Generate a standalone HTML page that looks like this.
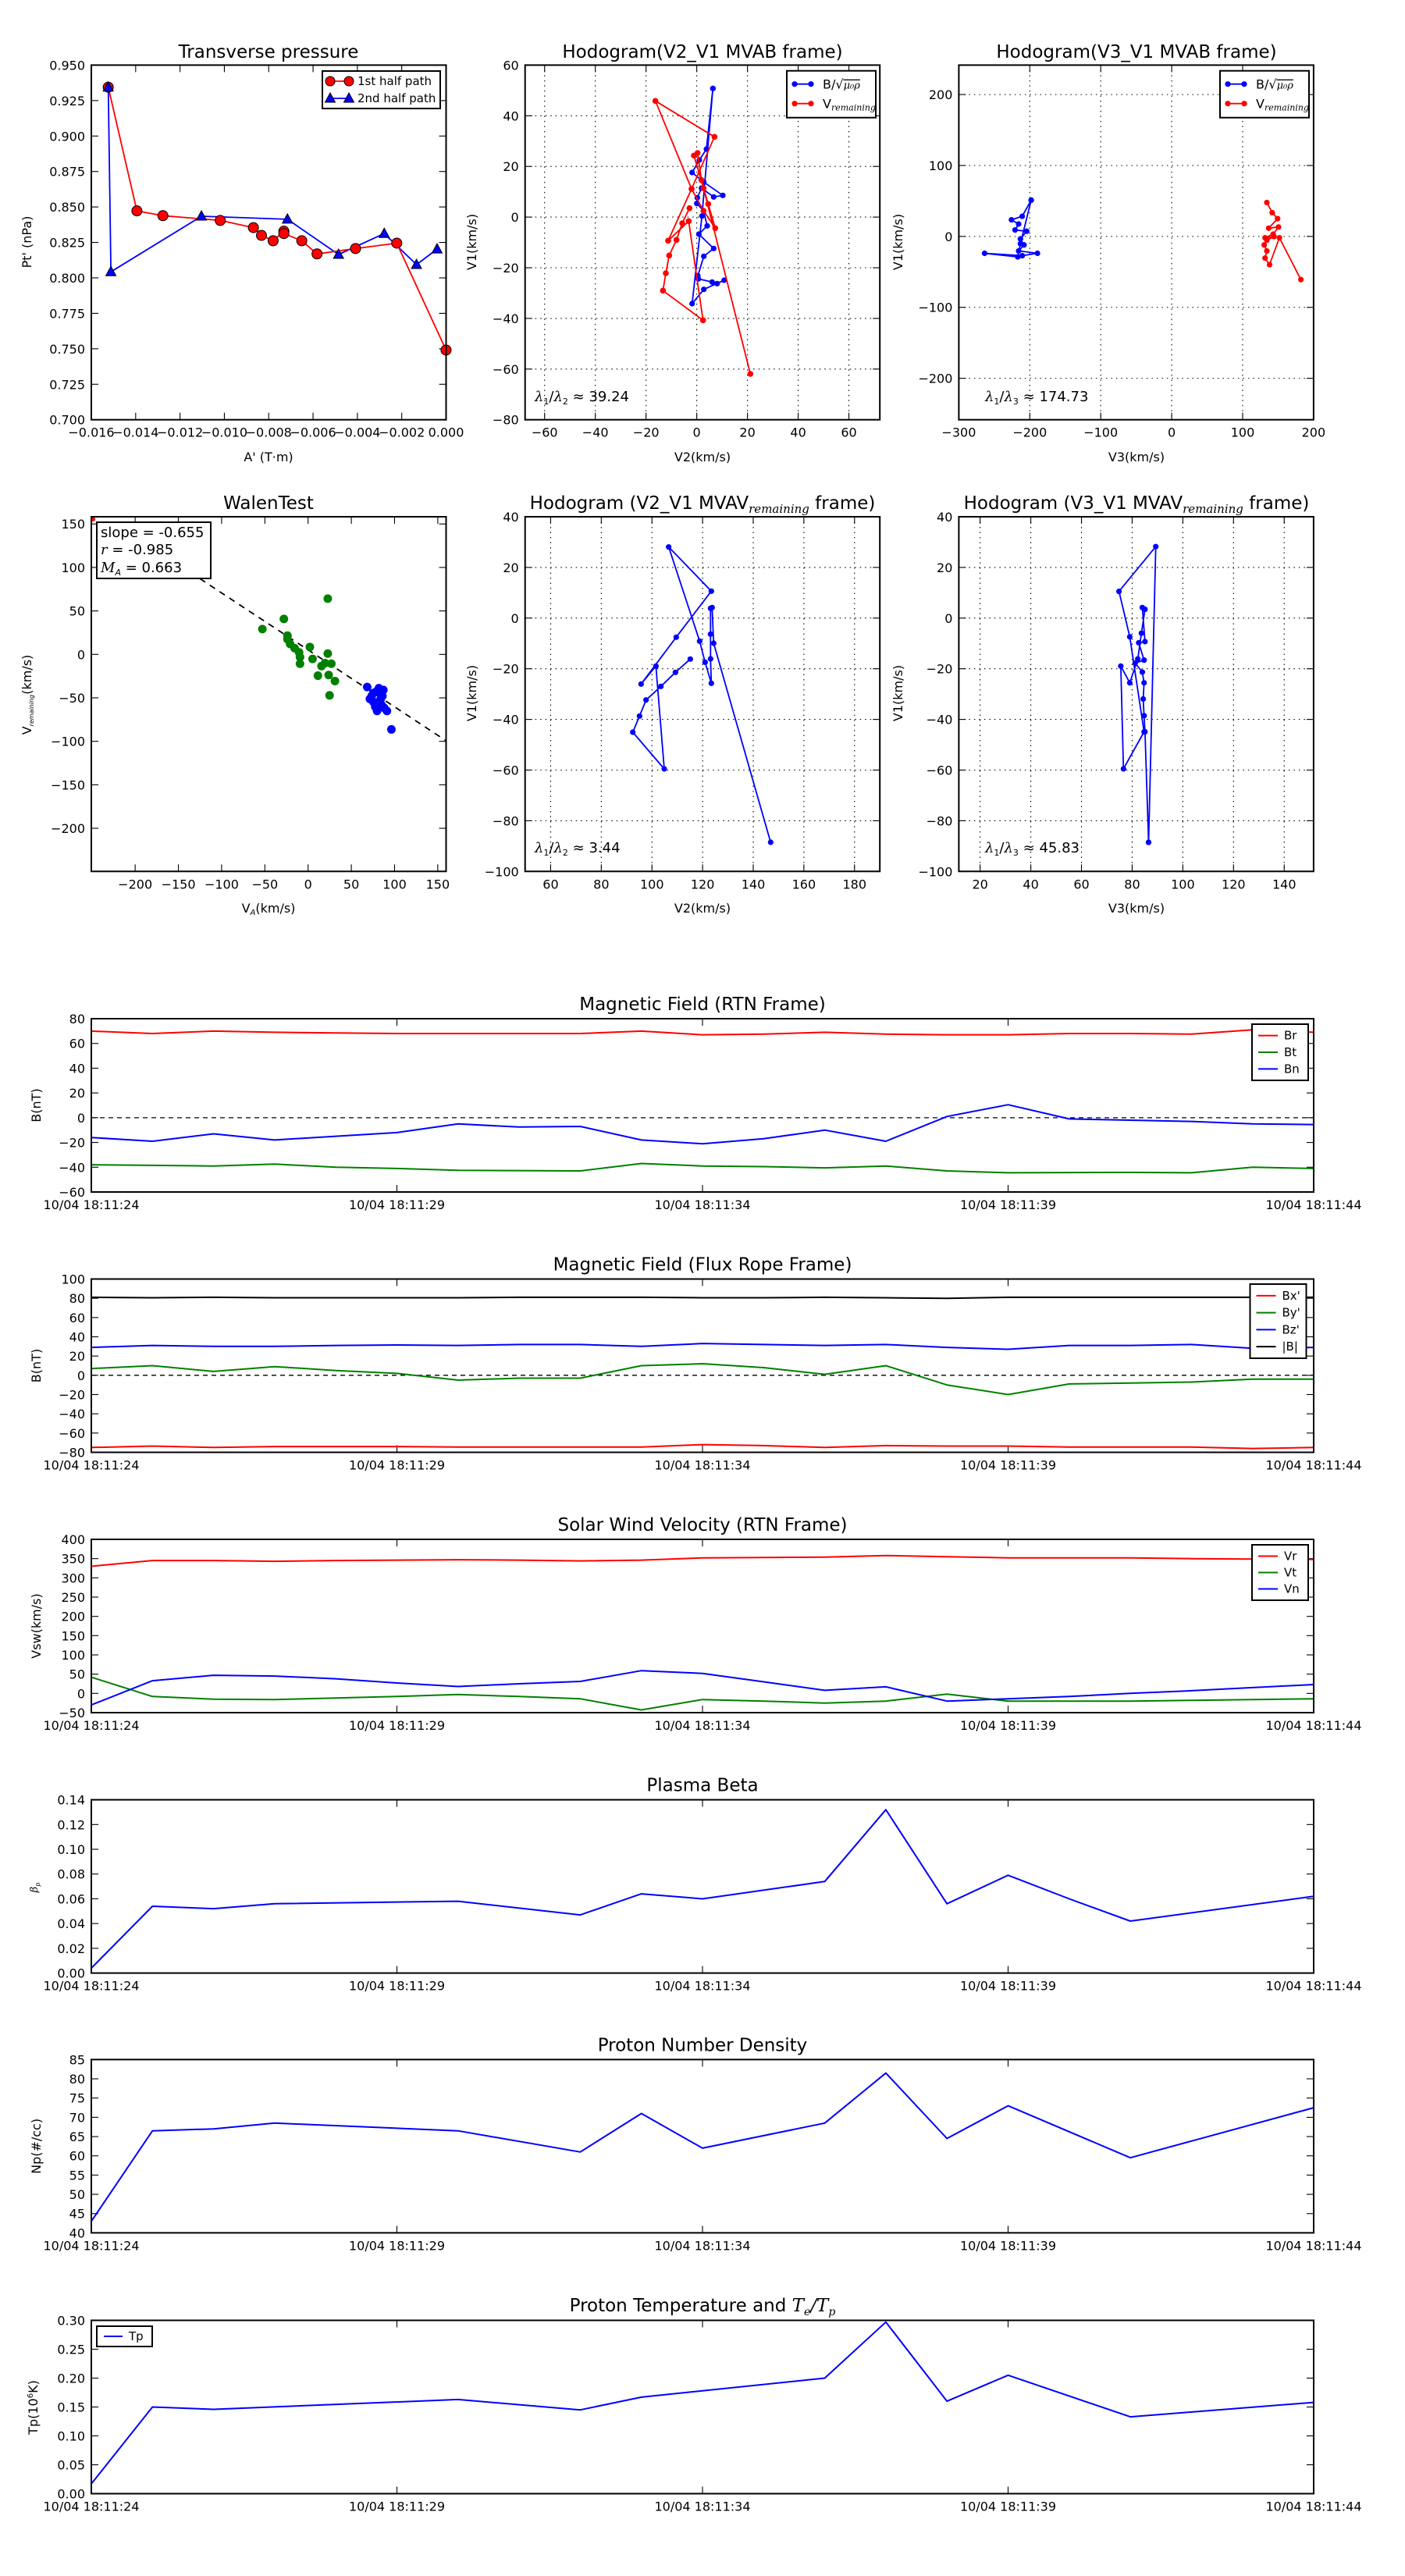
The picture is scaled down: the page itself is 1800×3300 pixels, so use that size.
<!DOCTYPE html>
<html><head><meta charset="utf-8"><style>
html,body{margin:0;padding:0;background:#fff;}
svg{display:block;font-family:"DejaVu Sans","Liberation Sans",sans-serif;}
</style></head><body>
<svg id="s" xmlns="http://www.w3.org/2000/svg" width="1800" height="3300" viewBox="0 0 1800 3300">
<rect width="1800" height="3300" fill="#fff"/>
</svg>
<script>
const S=document.getElementById('s');const NS='http://www.w3.org/2000/svg';
function el(t,a,txt,p){const e=document.createElementNS(NS,t);for(const k in a)e.setAttribute(k,a[k]);if(txt!==undefined&&txt!==null)e.textContent=txt;(p||S).appendChild(e);return e;}
function txt(x,y,s,o){o=o||{};const a={x:x,y:y,'font-size':o.fs||16,'text-anchor':o.anchor||'middle',fill:'#000'};if(o.rot)a.transform='rotate(-90 '+x+' '+y+')';if(o.ff)a['font-family']=o.ff;return el('text',a,s);}
function panel(P){
 const mx=v=>P.x0+(v-P.xr[0])/(P.xr[1]-P.xr[0])*P.w;
 const my=v=>P.y0+P.h-(v-P.yr[0])/(P.yr[1]-P.yr[0])*P.h;
 P.mx=mx;P.my=my;
 if(P.grid){P.xt.forEach(v=>{const X=mx(v);el('line',{x1:X,x2:X,y1:P.y0,y2:P.y0+P.h,stroke:'#000','stroke-width':1.1,'stroke-dasharray':'1.5,5'});});
  P.yt.forEach(v=>{const Y=my(v);el('line',{x1:P.x0,x2:P.x0+P.w,y1:Y,y2:Y,stroke:'#000','stroke-width':1.1,'stroke-dasharray':'1.5,5'});});}
 P.xt.forEach((v,i)=>{const X=mx(v);el('line',{x1:X,x2:X,y1:P.y0+P.h,y2:P.y0+P.h-9,stroke:'#000','stroke-width':1.1});el('line',{x1:X,x2:X,y1:P.y0,y2:P.y0+9,stroke:'#000','stroke-width':1.1});
  if(P.xl)txt(X,P.y0+P.h+22,P.xl[i]);});
 P.yt.forEach((v,i)=>{const Y=my(v);el('line',{x1:P.x0,x2:P.x0+9,y1:Y,y2:Y,stroke:'#000','stroke-width':1.1});el('line',{x1:P.x0+P.w,x2:P.x0+P.w-9,y1:Y,y2:Y,stroke:'#000','stroke-width':1.1});
  txt(P.x0-8,Y+6,P.yl[i],{anchor:'end'});});
 return P;}
function frame(P){el('rect',{x:P.x0,y:P.y0,width:P.w,height:P.h,fill:'none',stroke:'#000','stroke-width':2});}
function poly(pts,col,w){el('polyline',{points:pts.map(p=>p[0].toFixed(1)+','+p[1].toFixed(1)).join(' '),fill:'none',stroke:col,'stroke-width':w||1.8,'stroke-linejoin':'round'});}
function dots(pts,col,r){pts.forEach(p=>el('circle',{cx:p[0],cy:p[1],r:r,fill:col,stroke:'none'}));}
const Z1=p=>[0.9+p[0]*1.148,p[1]*0.7653];
const range=(a,b,s)=>{const r=[];for(let v=a;v<=b+1e-9;v+=s)r.push(+v.toFixed(6));return r;};

const W=454.5,H=454.3,TY=83.4,TY2=662;
const C1=117,C2=672.7,C3=1228.4;
// P1
const P1=panel({x0:C1,y0:TY,w:W,h:H,xr:[-0.016,0],yr:[0.7,0.95],xt:range(-0.016,0,0.002),yt:range(0.7,0.95,0.025),
 xl:['\u22120.016','\u22120.014','\u22120.012','\u22120.010','\u22120.008','\u22120.006','\u22120.004','\u22120.002','0.000'],
 yl:['0.700','0.725','0.750','0.775','0.800','0.825','0.850','0.875','0.900','0.925','0.950']});
const red1=[[120,146],[152,353],[181,361],[245,369],[282,381],[291,394],[304,403],[316,387],[316,391],[336,403],[353,425],[396,416],[442,407],[497,586]].map(Z1);
const blue1=[[120,146],[123,455],[224,362],[320,367],[377,426],[428,391],[464,443],[487,417]].map(Z1);
poly(blue1,'#0000ff');poly(red1,'#ff0000');
red1.forEach(p=>el('circle',{cx:p[0],cy:p[1],r:6.5,fill:'#ff0000',stroke:'#000','stroke-width':1}));
function tri(x,y,c){el('polygon',{points:`${x},${y-7} ${x-6.5},${y+5} ${x+6.5},${y+5}`,fill:c,stroke:'#000','stroke-width':1});}
blue1.forEach(p=>tri(p[0],p[1],'#0000ff'));
frame(P1);
el('rect',{x:413,y:91,width:151,height:48,fill:'#fff',stroke:'#000','stroke-width':2});
el('line',{x1:421,x2:449,y1:104,y2:104,stroke:'#ff0000','stroke-width':1.8});
el('circle',{cx:423,cy:104,r:6,fill:'#ff0000',stroke:'#000'});el('circle',{cx:447,cy:104,r:6,fill:'#ff0000',stroke:'#000'});
txt(458,109,'1st half path',{anchor:'start',fs:15});
el('line',{x1:421,x2:449,y1:126,y2:126,stroke:'#0000ff','stroke-width':1.8});
tri(423,126,'#0000ff');tri(447,126,'#0000ff');
txt(458,131,'2nd half path',{anchor:'start',fs:15});
txt(344,74,'Transverse pressure',{fs:23});
txt(344,591,"A' (T\u00b7m)",{fs:16});
txt(40,310,"Pt' (nPa)",{fs:16,rot:1});

// P2
const P2=panel({x0:C2,y0:TY,w:W,h:H,xr:[-67.7,72.2],yr:[-80,60],xt:range(-60,60,20),yt:range(-80,60,20),grid:1,
 xl:['\u221260','\u221240','\u221220','0','20','40','60'],yl:['\u221280','\u221260','\u221240','\u221220','0','20','40','60']});
const Z5=p=>[820+p[0]/3,90+p[1]/3];
const b2=[[280,70],[255,303],[228,345],[200,393],[245,430],[318,481],[283,487],[236,453],[220,490],[218,512],[244,540],[258,598],[226,630],[283,685],[245,715],[222,790],[224,802],[277,814],[296,820],[323,807],[245,842],[200,897],[238,560],[280,70]].map(Z5);
const r2=[[190,530],[162,588],[140,652],[112,712],[99,780],[88,847],[242,961],[187,580],[108,655],[198,456],[286,256],[59,118],[198,456],[244,540],[289,607],[262,514],[244,453],[236,422],[221,318],[207,328],[244,453],[424,1167]].map(Z5);
poly(b2,'#0000ff');dots(b2,'#0000ff',3.6);poly(r2,'#ff0000');dots(r2,'#ff0000',3.8);
frame(P2);
function hleg(x,y){el('rect',{x:x,y:y,width:114,height:60,fill:'#fff',stroke:'#000','stroke-width':2});
 el('line',{x1:x+10,x2:x+31,y1:y+17,y2:y+17,stroke:'#0000ff','stroke-width':1.8});dots([[x+10,y+17],[x+31,y+17]],'#0000ff',3.6);
 el('line',{x1:x+10,x2:x+31,y1:y+42,y2:y+42,stroke:'#ff0000','stroke-width':1.8});dots([[x+10,y+42],[x+31,y+42]],'#ff0000',3.6);
 const t=el('text',{x:x+46,y:y+23,'font-size':16,fill:'#000'},null);t.textContent='B/\u221A';
 el('tspan',{'font-style':'italic','text-decoration':'overline','font-family':'DejaVu Serif','font-size':13},'\u03BC\u2080\u03C1',t);
 const t3=el('text',{x:x+46,y:y+48,'font-size':16,fill:'#000'},'V');el('tspan',{'font-size':11,'font-style':'italic','font-family':'DejaVu Serif',dy:3},'remaining',t3);}
hleg(1008,90.7);
function lam(x,y,sub,val){const t=el('text',{x:x,y:y,'font-size':18,fill:'#000'});el('tspan',{'font-style':'italic','font-family':'DejaVu Serif'},'\u03BB',t);el('tspan',{'font-size':11,dy:4},'1',t);el('tspan',{dy:-4},'/',t);el('tspan',{'font-style':'italic','font-family':'DejaVu Serif'},'\u03BB',t);el('tspan',{'font-size':11,dy:4},sub,t);el('tspan',{dy:-4},' \u2248 '+val,t);}
lam(685,514,'2','39.24');
txt(900,74,'Hodogram(V2_V1 MVAB frame)',{fs:23});
txt(900,591,'V2(km/s)',{fs:16});
txt(610,310,'V1(km/s)',{fs:16,rot:1});

// P3
const P3=panel({x0:C3,y0:TY,w:W,h:H,xr:[-300,200],yr:[-258.4,241.5],xt:range(-300,200,100),yt:range(-200,200,100),grid:1,
 xl:['\u2212300','\u2212200','\u2212100','0','100','200'],yl:['\u2212200','\u2212100','0','100','200']});
const b3=[[1150,335],[1140,362],[1128,368],[1136,375],[1132,385],[1145,387],[1138,400],[1142,410],[1136,420],[1157,424],[1140,428],[1098,424],[1135,430],[1138,408],[1150,335]].map(Z1);
const r3=[[1413,339],[1419,356],[1425,366],[1415,382],[1426,380],[1420,392],[1411,398],[1421,396],[1413,402],[1410,410],[1413,420],[1411,432],[1416,443],[1427,398],[1451,468]].map(Z1);
poly(b3,'#0000ff');dots(b3,'#0000ff',3.6);poly(r3,'#ff0000');dots(r3,'#ff0000',3.6);
frame(P3);hleg(1563,90.7);
lam(1262,514,'3','174.73');
txt(1456,74,'Hodogram(V3_V1 MVAB frame)',{fs:23});
txt(1456,591,'V3(km/s)',{fs:16});
txt(1156,310,'V1(km/s)',{fs:16,rot:1});

// P4 Walen
const P4=panel({x0:C1,y0:TY2,w:W,h:H,xr:[-250.7,159.6],yr:[-249.6,158.3],xt:range(-200,150,50),yt:range(-200,150,50),
 xl:['\u2212200','\u2212150','\u2212100','\u221250','0','50','100','150'],yl:['\u2212200','\u2212150','\u2212100','\u221250','0','50','100','150']});
el('line',{x1:P4.mx(-125),y1:P4.my(5.2+0.655*125),x2:P4.mx(159.6),y2:P4.my(5.2-0.655*159.6),stroke:'#000','stroke-width':1.8,'stroke-dasharray':'8,7'});
const g4=[[292,1053],[316,1036],[320,1064],[320,1070],[323,1078],[328,1085],[333,1092],[334,1100],[334,1111],[345,1083],[348,1103],[354,1131],[358,1115],[362,1110],[365,1002],[365,1094],[366,1130],[367,1164],[369,1111],[373,1140]].map(Z1);
const bl4=[[409,1150],[414,1165],[416,1175],[419,1158],[420,1190],[422,1152],[425,1180],[426,1165],[427,1155],[428,1185],[431,1190],[416,1160],[436,1221],[412,1170],[424,1170],[418,1183]].map(Z1);
dots(g4,'#008000',5.5);dots(bl4,'#0000ff',5.5);
dots([[119,665]],'#ff0000',3);
frame(P4);
el('rect',{x:124,y:669,width:146,height:72,fill:'#fff',stroke:'#000','stroke-width':2});
txt(129,688,'slope = -0.655',{anchor:'start',fs:18});
(function(){const t=el('text',{x:129,y:710,'font-size':18,fill:'#000'});el('tspan',{'font-style':'italic','font-family':'DejaVu Serif'},'r',t);el('tspan',{},' = -0.985',t);
const t2=el('text',{x:129,y:733,'font-size':18,fill:'#000'});el('tspan',{'font-style':'italic','font-family':'DejaVu Serif'},'M',t2);el('tspan',{'font-size':11,dy:4,'font-style':'italic'},'A',t2);el('tspan',{dy:-4},' = 0.663',t2);})();
txt(344,652,'WalenTest',{fs:23});
(function(){const t=el('text',{x:344,y:1169,'font-size':16,'text-anchor':'middle',fill:'#000'},'V');el('tspan',{'font-size':10,dy:3,'font-style':'italic'},'A',t);el('tspan',{dy:-3},'(km/s)',t);
const t2=el('text',{x:40,y:890,'font-size':16,'text-anchor':'middle',fill:'#000',transform:'rotate(-90 40 890)'},'V');el('tspan',{'font-size':8,dy:3,'font-style':'italic'},'remaining',t2);el('tspan',{dy:-3},'(km/s)',t2);})();

// P5
const P5=panel({x0:C2,y0:TY2,w:W,h:H,xr:[49.9,190],yr:[-100,40],xt:range(60,180,20),yt:range(-100,40,20),grid:1,
 xl:['60','80','100','120','140','160','180'],yl:['\u2212100','\u221280','\u221260','\u221240','\u221220','0','20','40']});
const Z4=p=>[780+p[0]/3,680+p[1]/3];
const b5=[[313,493],[256,544],[200,598],[143,650],[118,712],[92,774],[213,915],[181,520],[124,589],[259,409],[394,232],[230,62],[349,424],[370,505],[394,586],[391,492],[391,397],[391,298],[397,295],[403,432],[622,1197]].map(Z4);
poly(b5,'#0000ff');dots(b5,'#0000ff',3.6);frame(P5);
lam(685,1092,'2','3.44');
(function(){const t=el('text',{x:900,y:652,'font-size':23,'text-anchor':'middle',fill:'#000'},'Hodogram (V2_V1 MVAV');el('tspan',{'font-size':15,dy:5,'font-style':'italic','font-family':'DejaVu Serif'},'remaining',t);el('tspan',{dy:-5},' frame)',t);})();
txt(900,1169,'V2(km/s)',{fs:16});
txt(610,888,'V1(km/s)',{fs:16,rot:1});

// P6
const P6=panel({x0:C3,y0:TY2,w:W,h:H,xr:[11.6,151.6],yr:[-100,40],xt:range(20,140,20),yt:range(-100,40,20),grid:1,
 xl:['20','40','60','80','100','120','140'],yl:['\u2212100','\u221280','\u221260','\u221240','\u221220','0','20','40']});
const b6=[[1281,1410],[1277,1225],[1276,1198],[1275,1170],[1276,1143],[1274,1125],[1266,1110],[1276,1105],[1270,1076],[1277,1074],[1274,1017],[1277,1020],[1273,1060],[1269,1103],[1260,1143],[1250,1115],[1253,1287],[1276,1225],[1260,1066],[1248,990],[1289,915],[1281,1410]].map(Z1);
poly(b6,'#0000ff');dots(b6,'#0000ff',3.6);frame(P6);
lam(1262,1092,'3','45.83');
(function(){const t=el('text',{x:1456,y:652,'font-size':23,'text-anchor':'middle',fill:'#000'},'Hodogram (V3_V1 MVAV');el('tspan',{'font-size':15,dy:5,'font-style':'italic','font-family':'DejaVu Serif'},'remaining',t);el('tspan',{dy:-5},' frame)',t);})();
txt(1456,1169,'V3(km/s)',{fs:16});
txt(1156,888,'V1(km/s)',{fs:16,rot:1});

// ---------- Time series ----------
const TL=['10/04 18:11:24','10/04 18:11:29','10/04 18:11:34','10/04 18:11:39','10/04 18:11:44'];
function ts(y0,yr,yt,yl,title,ylab){const P=panel({x0:117,y0:y0,w:1566,h:222,xr:[0,20],yr:yr,xt:[0,5,10,15,20],yt:yt,xl:TL,yl:yl});
 if(title)txt(900,y0-11,title,{fs:23});if(ylab)txt(52,y0+111,ylab,{fs:16,rot:1});return P;}
function series(P,vals,col){poly(vals.map((v,i)=>[P.mx(i),P.my(v)]),col,2);}
function seriesXY(P,arr,col){poly(arr.map(a=>[P.mx(a[0]),P.my(a[1])]),col,2);}
function zero(P){el('line',{x1:P.x0,x2:P.x0+P.w,y1:P.my(0),y2:P.my(0),stroke:'#000','stroke-width':1.3,'stroke-dasharray':'6,5'});}
function leg(x,y,h,items){el('rect',{x:x,y:y,width:72,height:h,fill:'#fff',stroke:'#000','stroke-width':2});
 const st=(h-8)/items.length;
 items.forEach((it,i)=>{const yy=y+4+st*(i+0.5);el('line',{x1:x+8,x2:x+33,y1:yy,y2:yy,stroke:it[1],'stroke-width':2});txt(x+41,yy+5,it[0],{anchor:'start',fs:15});});}

const M1=ts(1305,[-60,80],range(-60,80,20),['\u221260','\u221240','\u221220','0','20','40','60','80'],'Magnetic Field (RTN Frame)','B(nT)');
zero(M1);
series(M1,[70,68,70,69,68.5,68,68,68,68,70,67,67.5,69,67.5,67,67,68,68,67.5,71,69],'#ff0000');
series(M1,[-38,-38.5,-39,-37.5,-40,-41,-42.5,-42.7,-43,-37,-39,-39.5,-40.5,-39,-43,-44.5,-44.3,-44.2,-44.5,-40,-41],'#008000');
series(M1,[-16,-19,-13,-18,-15,-12,-5,-7.5,-7,-18,-21,-17,-10,-19,1,10.5,-1,-2,-3,-5,-5.5],'#0000ff');
frame(M1);leg(1604,1312,72,[['Br','#ff0000'],['Bt','#008000'],['Bn','#0000ff']]);

const M2=ts(1638.5,[-80,100],range(-80,100,20),['\u221280','\u221260','\u221240','\u221220','0','20','40','60','80','100'],'Magnetic Field (Flux Rope Frame)','B(nT)');
zero(M2);
series(M2,[-75,-73.5,-75,-74,-74,-74,-74.5,-74.5,-74.5,-74.5,-72,-73,-75,-73,-73.5,-73.5,-74.5,-74.5,-74.5,-76,-75],'#ff0000');
series(M2,[7,10,4,9,5,2,-5,-3,-3,10,12,8,1,10,-10,-20,-9,-8,-7,-4,-4],'#008000');
series(M2,[29,31,30,30,31,31.5,31,32,32,30,33,32,31,32,29,27,31,31,32,28,29],'#0000ff');
series(M2,[81,80.5,81,80.5,80.5,80.5,80.5,81,81,81,80.5,80.5,81,80.5,80,81,81,81,81,81,81],'#000000');
frame(M2);leg(1601.5,1645,95,[["Bx'",'#ff0000'],["By'",'#008000'],["Bz'",'#0000ff'],['|B|','#000000']]);

const M3=ts(1972,[-50,400],range(-50,400,50),['\u221250','0','50','100','150','200','250','300','350','400'],'Solar Wind Velocity (RTN Frame)','Vsw(km/s)');
series(M3,[330,345,345,343,345,346,347,346,344,346,352,353,354,358,355,352,352,352,350,349,348],'#ff0000');
series(M3,[42,-8,-15,-16,-12,-8,-3,-8,-14,-43,-16,-20,-25,-20,-2,-20,-20,-20,-18,-16,-14],'#008000');
series(M3,[-30,33,47,45,38,27,18,25,31,59,52,30,8,17,-20,-14,-8,0,7,15,23],'#0000ff');
frame(M3);leg(1604,1979,71,[['Vr','#ff0000'],['Vt','#008000'],['Vn','#0000ff']]);

const M4=ts(2305.6,[0,0.14],range(0,0.14,0.02),['0.00','0.02','0.04','0.06','0.08','0.10','0.12','0.14'],'Plasma Beta','');
seriesXY(M4,[[0,0.004],[1,0.054],[2,0.052],[3,0.056],[6,0.058],[8,0.047],[9,0.064],[10,0.060],[12,0.074],[13,0.132],[14,0.056],[15,0.079],[16,0.060],[17,0.042],[20,0.062]],'#0000ff');
frame(M4);
(function(){const t=el('text',{x:48,y:2418,'font-size':13,'text-anchor':'middle',fill:'#000',transform:'rotate(-90 48 2418)','font-family':'DejaVu Serif','font-style':'italic'},'\u03B2');el('tspan',{'font-size':8,dy:3},'p',t);})();

const M5=ts(2638.4,[40,85],range(40,85,5),['40','45','50','55','60','65','70','75','80','85'],'Proton Number Density','Np(#/cc)');
seriesXY(M5,[[0,43],[1,66.5],[2,67],[3,68.5],[6,66.5],[8,61],[9,71],[10,62],[12,68.5],[13,81.5],[14,64.5],[15,73],[17,59.5],[20,72.5]],'#0000ff');
frame(M5);

const M6=ts(2972.5,[0,0.3],range(0,0.3,0.05),['0.00','0.05','0.10','0.15','0.20','0.25','0.30'],'','');
seriesXY(M6,[[0,0.017],[1,0.15],[2,0.146],[6,0.163],[8,0.145],[9,0.167],[12,0.2],[13,0.297],[14,0.16],[15,0.205],[17,0.133],[20,0.158]],'#0000ff');
frame(M6);
(function(){const t=el('text',{x:900,y:2961,'font-size':23,'text-anchor':'middle',fill:'#000'},'Proton Temperature and ');
el('tspan',{'font-family':'DejaVu Serif','font-style':'italic'},'T',t);el('tspan',{'font-size':14,dy:5,'font-family':'DejaVu Serif','font-style':'italic'},'e',t);el('tspan',{dy:-5,'font-family':'DejaVu Serif','font-style':'italic'},'/T',t);el('tspan',{'font-size':14,dy:5,'font-family':'DejaVu Serif','font-style':'italic'},'p',t);
const t2=el('text',{x:48,y:3084,'font-size':16,'text-anchor':'middle',fill:'#000',transform:'rotate(-90 48 3084)'},'Tp(10');el('tspan',{'font-size':10,dy:-6},'6',t2);el('tspan',{dy:6},'K)',t2);})();
el('rect',{x:124,y:2980,width:71,height:26,fill:'#fff',stroke:'#000','stroke-width':2});
el('line',{x1:133,x2:157,y1:2993,y2:2993,stroke:'#0000ff','stroke-width':2});txt(165,2998,'Tp',{anchor:'start',fs:15});
</script>
</body></html>
